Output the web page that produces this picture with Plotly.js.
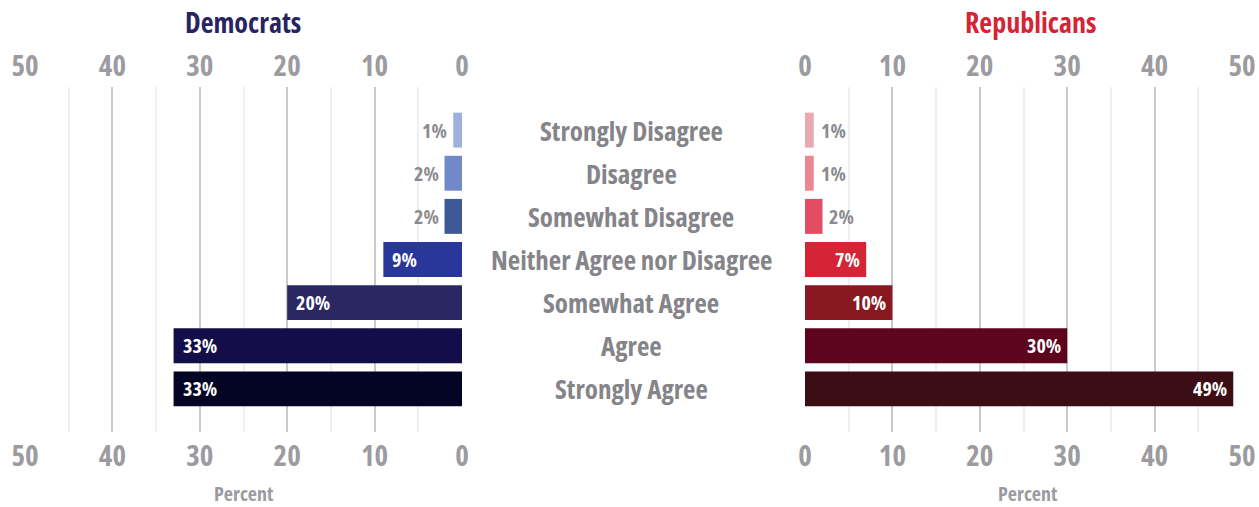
<!DOCTYPE html>
<html>
<head>
<meta charset="utf-8">
<script src="https://cdn.plot.ly/plotly-3.0.1.min.js"></script>
<style>
html,body{margin:0;padding:0;background:#fff;}
#chart{width:1259px;height:507px;}
svg text{font-stretch:75% !important;}
</style>
</head>
<body>
<div id="chart"></div>
<script>
var categories = ["Strongly Disagree", "Disagree", "Somewhat Disagree", "Neither Agree nor Disagree", "Somewhat Agree", "Agree", "Strongly Agree"];
var democrats = [1, 2, 2, 9, 20, 33, 33];
var republicans = [1, 1, 2, 7, 10, 30, 49];
var demColors = ["#9db1dc", "#7189c8", "#3e5a96", "#29379a", "#2a2763", "#130d49", "#040424"];
var repColors = ["#e8a9b1", "#ee8592", "#e34c65", "#d42436", "#8a1820", "#5d051f", "#3a0e14"];
var tickVals = [0, 10, 20, 30, 40, 50];

var FONT = "'Open Sans', sans-serif";
var W = 1259, H = 507;
var idx = categories.map(function(_, i){ return i; });

var traces = [
  {type: 'bar', orientation: 'h', x: democrats, y: idx, xaxis: 'x', yaxis: 'y',
   marker: {color: demColors}, width: 0.81, hoverinfo: 'none'},
  {type: 'bar', orientation: 'h', x: republicans, y: idx, xaxis: 'x3', yaxis: 'y2',
   marker: {color: repColors}, width: 0.81, hoverinfo: 'none'},
  {type: 'scatter', x: [null], y: [null], xaxis: 'x2', yaxis: 'y', hoverinfo: 'none', showlegend: false},
  {type: 'scatter', x: [null], y: [null], xaxis: 'x4', yaxis: 'y2', hoverinfo: 'none', showlegend: false}
];

var tickFont = {family: FONT, size: 29, color: '#9b9ba0', weight: 'bold'};
function xax(domain, range, side, overlay, anchor) {
  var a = {
    domain: domain, range: range, side: side, anchor: anchor,
    tickvals: tickVals, ticktext: tickVals.map(String), tickfont: tickFont,
    ticks: '', ticklabelstandoff: 4, zeroline: false, showline: false, fixedrange: true
  };
  if (overlay) {
    a.overlaying = overlay; a.showgrid = false;
  } else {
    a.showgrid = true; a.gridcolor = '#c9c9c9'; a.gridwidth = 2;
    a.minor = {dtick: 5, tick0: 0, showgrid: true, gridcolor: '#efefef', gridwidth: 2, ticks: ''};
  }
  return a;
}
var yDomain = [1 - 432 / H, 1 - 87 / H];
var yax = function(anchor){ return {domain: yDomain, range: [categories.length, -1], anchor: anchor,
  showticklabels: false, showgrid: false, zeroline: false, showline: false, ticks: '', fixedrange: true}; };

var annotations = [];
categories.forEach(function(c, i){
  annotations.push({xref: 'paper', yref: 'y', x: 631 / W, y: i, text: c, showarrow: false,
    xanchor: 'center', yanchor: 'middle', font: {family: FONT, size: 27, color: '#848489', weight: 'bold'}});
});
function barLabels(vals, xref, yref, dir) {
  vals.forEach(function(v, i){
    var inside = v >= 5;
    var a = {xref: xref, yref: yref, x: v, y: i, text: v + '%', showarrow: false, yanchor: 'middle',
      font: {family: FONT, size: 20, color: inside ? '#ffffff' : '#8a8a8f', weight: 'bold'}};
    if (dir < 0) { // left chart, reversed axis: tip on the left
      a.xanchor = inside ? 'left' : 'right';
      a.xshift = inside ? 7 : -4;
    } else {
      a.xanchor = inside ? 'right' : 'left';
      a.xshift = inside ? -4 : 5;
    }
    annotations.push(a);
  });
}
barLabels(democrats, 'x', 'y', -1);
barLabels(republicans, 'x3', 'y2', 1);

annotations.push({xref: 'paper', yref: 'paper', x: 243 / W, y: 1 - 22 / H, text: 'Democrats', showarrow: false,
  xanchor: 'center', yanchor: 'middle', font: {family: FONT, size: 28, color: '#28245f', weight: 'bold'}});
annotations.push({xref: 'paper', yref: 'paper', x: 1030 / W, y: 1 - 22 / H, text: 'Republicans', showarrow: false,
  xanchor: 'center', yanchor: 'middle', font: {family: FONT, size: 28, color: '#d42436', weight: 'bold'}});
annotations.push({xref: 'paper', yref: 'paper', x: 243 / W, y: 1 - 493 / H, text: 'Percent', showarrow: false,
  xanchor: 'center', yanchor: 'middle', font: {family: FONT, size: 20, color: '#9b9ba0', weight: 'bold'}});
annotations.push({xref: 'paper', yref: 'paper', x: 1027 / W, y: 1 - 493 / H, text: 'Percent', showarrow: false,
  xanchor: 'center', yanchor: 'middle', font: {family: FONT, size: 20, color: '#9b9ba0', weight: 'bold'}});

var layout = {
  width: W, height: H, margin: {l: 0, r: 0, t: 0, b: 0},
  paper_bgcolor: '#ffffff', plot_bgcolor: 'rgba(0,0,0,0)', showlegend: false,
  xaxis: xax([25 / W, 462 / W], [50, 0], 'bottom', null, 'y'),
  xaxis2: xax([25 / W, 462 / W], [50, 0], 'top', 'x', 'y'),
  xaxis3: xax([805 / W, 1242 / W], [0, 50], 'bottom', null, 'y2'),
  xaxis4: xax([805 / W, 1242 / W], [0, 50], 'top', 'x3', 'y2'),
  yaxis: yax('x'), yaxis2: yax('x3'),
  annotations: annotations, bargap: 0.19
};
Plotly.newPlot('chart', traces, layout, {staticPlot: true, displayModeBar: false});
</script>
</body>
</html>
